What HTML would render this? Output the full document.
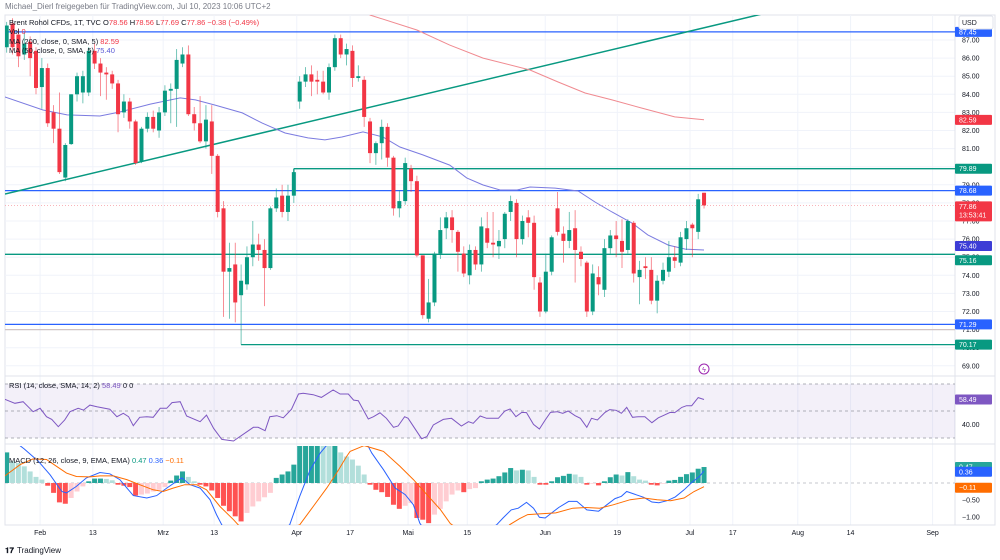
<!DOCTYPE html>
<html><head><meta charset="utf-8">
<style>
html,body{margin:0;padding:0;background:#fff;}
svg{display:block;font-family:"Liberation Sans",sans-serif;}
</style></head>
<body>
<svg id="c" width="1000" height="560" viewBox="0 0 1000 560" xmlns="http://www.w3.org/2000/svg">
<defs>
<clipPath id="cm"><rect x="5" y="15" width="950" height="361"/></clipPath>
<clipPath id="cr"><rect x="5" y="377" width="950" height="66"/></clipPath>
<clipPath id="cd"><rect x="5" y="446" width="950" height="79"/></clipPath>
</defs>
<rect x="5" y="15" width="990" height="510" fill="#fff" stroke="#e0e3eb" stroke-width="1"/>
<g id="grid"></g>
<g id="main" clip-path="url(#cm)"></g>
<g id="rsi" clip-path="url(#cr)"></g>
<g id="macd" clip-path="url(#cd)"></g>
<g id="axes"></g>
<text x="5" y="9" font-size="8" fill="#787b86">Michael_Dierl freigegeben für TradingView.com, Jul 10, 2023 10:06 UTC+2</text>
<text x="9" y="25" font-size="7.5" fill="#131722">Brent Rohöl CFDs, 1T, TVC  O<tspan fill="#f23645">78.56</tspan> H<tspan fill="#f23645">78.56</tspan> L<tspan fill="#f23645">77.69</tspan> C<tspan fill="#f23645">77.86 −0.38 (−0.49%)</tspan></text>
<text x="9" y="34" font-size="7.5" fill="#131722">Vol <tspan fill="#f23645">0</tspan></text>
<text x="9" y="44" font-size="7.5" fill="#131722">MA (200, close, 0, SMA, 5) <tspan fill="#f23645">82.59</tspan></text>
<text x="9" y="53" font-size="7.5" fill="#131722">MA (50, close, 0, SMA, 5) <tspan fill="#5b5bd6">75.40</tspan></text>
<text x="9" y="388" font-size="7.5" fill="#131722">RSI (14, close, SMA, 14, 2) <tspan fill="#7e57c2">58.49</tspan> 0 0</text>
<text x="9" y="463" font-size="7.5" fill="#131722">MACD (12, 26, close, 9, EMA, EMA) <tspan fill="#089981">0.47</tspan> <tspan fill="#2962ff">0.36</tspan> <tspan fill="#ff6d00">−0.11</tspan></text>
<g><text x="5" y="553" font-size="8" font-weight="bold" fill="#131722">𝟏𝟕</text><text x="17" y="553" font-size="8" fill="#131722">TradingView</text></g>
<rect x="959" y="16" width="34" height="13" rx="2" fill="#fff" stroke="#e0e3eb"/>
<text x="962" y="25" font-size="7" fill="#131722">USD</text>
<circle cx="704" cy="369" r="5" fill="#fff" stroke="#9c27b0" stroke-width="1"/>
<text x="704" y="372" font-size="7" fill="#9c27b0" text-anchor="middle">ϟ</text>
</svg>
<script>
const opens=[86.6,87.9,87.3,86.2,86.9,86.4,84.4,85.45,83.0,82.1,79.4,81.25,84.0,84.1,84.1,86.4,85.7,85.2,85.1,84.6,83.0,83.6,82.5,80.3,82.1,82.75,82.0,83.0,84.2,84.3,
85.7,86.2,82.9,82.4,81.4,82.5,80.6,77.7,74.2,74.6,72.9,73.5,75.0,75.7,75.4,74.4,77.7,78.4,77.5,78.4,83.6,84.7,85.1,84.8,84.7,84.1,85.5,87.1,86.2,86.4,
84.9,84.8,82.5,80.75,81.3,82.2,80.5,77.7,78.1,79.9,79.2,75.1,71.6,72.5,75.2,76.6,77.2,76.4,75.2,74.0,75.4,74.6,76.6,75.8,75.6,76.0,77.5,78.0,76.0,77.2,
76.9,73.6,72.0,74.2,77.7,76.3,75.9,76.6,75.3,74.7,72.0,73.9,73.2,75.5,76.2,75.9,75.4,76.9,73.9,74.5,74.3,72.6,73.7,74.2,75.0,74.7,76.0,76.8,76.4,78.56];
const highs=[88.0,88.2,87.6,87.4,87.2,86.6,86.0,85.7,83.4,84.1,81.3,84.0,85.2,85.3,86.6,86.8,86.0,85.5,85.3,84.8,84.0,83.8,82.6,82.2,83.0,83.1,83.3,84.5,84.6,86.5,
86.6,86.7,83.3,83.9,83.4,83.4,80.7,78.1,75.8,75.8,74.6,75.6,77.0,76.3,76.0,77.8,78.8,79.0,79.0,79.9,85.0,85.5,85.6,85.3,85.3,85.7,87.3,87.3,86.8,86.7,
85.6,85.0,82.7,81.4,82.6,82.4,80.6,78.7,80.5,80.1,79.5,75.1,73.8,75.3,77.2,77.5,77.6,76.5,75.6,75.7,75.6,77.2,77.5,77.5,76.5,77.5,78.4,78.2,77.3,77.6,
77.3,73.9,75.2,76.2,78.6,76.7,77.5,77.6,75.6,74.8,74.6,74.5,76.0,76.5,77.0,77.1,77.1,77.0,74.8,75.0,75.0,74.0,74.7,75.9,75.6,76.4,77.0,76.9,78.5,78.56];
const lows=[86.3,86.2,85.5,85.9,85.0,84.0,83.2,82.2,81.3,79.6,79.2,81.2,83.6,83.5,83.9,85.4,83.9,83.7,84.3,81.9,82.7,82.1,80.1,80.2,81.9,81.9,81.6,82.8,82.4,82.2,
85.5,82.8,82.0,81.3,81.0,79.6,77.2,71.7,71.6,71.4,70.17,73.2,74.5,74.8,72.3,74.3,77.5,77.2,77.0,78.0,83.2,84.4,83.9,84.0,84.0,83.7,85.3,86.0,85.6,84.4,
84.7,82.2,80.2,80.1,80.4,80.0,77.3,77.2,77.9,78.6,75.0,71.6,71.4,72.3,74.9,76.0,75.8,74.2,73.9,73.5,74.3,74.2,75.5,75.0,74.9,75.5,77.0,75.0,75.7,76.1,
73.2,71.7,71.9,74.0,76.2,74.7,75.5,73.6,74.5,71.7,71.8,72.9,72.8,75.2,75.0,74.4,75.2,73.6,72.4,73.8,72.4,71.9,73.5,73.9,74.4,74.5,75.4,75.0,76.0,77.69];
const closes=[87.8,86.6,86.1,86.8,86.0,84.35,85.45,82.4,82.1,79.7,81.2,84.0,85.0,85.0,86.4,85.7,85.2,85.1,84.6,82.9,83.6,82.5,80.2,82.1,82.75,82.1,83.0,84.2,84.3,85.9,
86.2,82.9,82.4,81.4,82.6,80.6,77.5,74.2,74.4,72.5,73.7,75.0,75.7,75.4,74.4,77.7,78.3,77.5,78.4,79.7,84.7,85.1,84.7,84.7,84.1,85.5,87.1,86.2,86.5,84.9,
85.0,82.75,80.75,81.3,82.2,80.5,77.7,78.1,80.2,79.2,75.1,71.8,72.5,75.2,76.5,77.2,76.5,75.3,74.1,75.4,74.6,76.7,75.8,75.7,75.9,77.4,78.1,76.0,77.0,76.9,
73.9,72.0,74.2,76.1,76.4,75.9,76.5,75.4,74.9,72.0,74.1,73.5,75.5,76.2,76.0,75.3,77.0,74.1,74.3,74.4,72.6,73.7,74.3,75.0,74.8,76.1,76.6,76.6,78.2,77.86];
const ma50Idx=[-0.3,6.2,10.3,15.9,19.3,24.5,29.6,32.2,35.5,40.2,43.6,47.5,51.4,54.3,57.2,60.8,64.2,67.1,71.0,75.6,78.5,81.3,84.2,87.1,89.3,93.6,97.5,100.4,103.3,106.7,109.4,112.9,115.8,119];
const ma50Val=[83.85,83.13,82.86,82.80,83.02,83.46,83.80,83.69,83.41,82.97,82.41,81.86,81.59,81.48,81.64,81.92,81.64,81.09,80.65,80.09,79.38,78.99,78.71,78.71,78.88,78.82,78.66,78.05,77.50,76.89,76.23,75.67,75.45,75.40];
const ma200Idx=[60,62,70,75.6,81.3,89.3,94.1,98.7,103.3,108.4,114,119];
const ma200Val=[89.0,88.38,87.55,86.72,86.0,85.34,84.68,84.07,83.69,83.24,82.75,82.59];
const rsiIdx=[-0.3,1.4,2.8,4.5,5.7,6.8,7.7,8.8,9.9,10.8,12.2,13.1,14.2,15.4,17.6,18.8,19.9,20.8,21.6,22.7,23.9,25.0,26.2,27.3,28.2,29.6,30.7,33.0,34.1,35.3,36.7,38.7,41.0,42.1,42.9,44.1,44.9,46.1,47.2,48.6,49.8,50.6,52.3,53.7,55.7,56.9,58.3,59.2,60.0,61.7,62.6,63.7,64.8,66.0,66.8,67.9,68.5,70.8,71.7,72.8,74.5,75.9,77.6,78.8,79.6,80.8,81.9,83.9,85.0,85.9,86.9,87.9,88.7,89.9,90.9,91.9,92.8,93.9,94.9,95.8,97.0,97.9,99.0,99.8,100.8,102.1,102.9,104.0,104.9,105.8,106.8,107.8,108.9,110.1,111.2,112.0,113.2,114.0,115.2,116.0,116.9,118.0,119];
const rsiVal=[58.7,55.7,56.9,49.5,52,45.8,43.8,38.4,43.3,49.5,52,50.7,54.4,53.2,51.3,45.8,48.3,45.8,39.1,45.3,45.8,45.3,52,52,56.2,56.9,46.3,42.1,47,37.2,29,27.8,34.7,37.9,37.9,35.4,45.8,46.5,45,51.3,62.6,63.1,62.1,60.1,65.6,62.6,62.6,58.1,57.6,44.1,45.8,48.7,44.6,37.9,38.9,45.8,44.6,29.5,31,39.6,43.8,44.6,38.9,42.1,40.9,46.3,44.6,44.6,50,51.5,45.8,49,48.8,40.1,36.7,43.3,49,49.5,48.3,50,46.5,44.6,37.9,44.6,43.3,49,51,50.5,48.3,52.7,45.3,45.8,45.8,41.3,45,46.5,49,48.8,52.7,53.9,53.9,59.9,58.49];
const histVal=[0.9,0.64,0.59,0.49,0.34,0.18,0.10,-0.08,-0.29,-0.57,-0.61,-0.44,-0.25,-0.10,0.05,0.13,0.13,0.12,0.08,-0.05,-0.08,-0.12,-0.37,-0.34,-0.31,-0.25,-0.20,-0.12,0.07,0.22,0.34,0.18,0.05,-0.05,-0.10,-0.22,-0.44,-0.67,-0.83,-0.98,-1.13,-0.88,-0.69,-0.54,-0.42,-0.29,0.15,0.25,0.34,0.54,
1.1,1.2,1.3,1.3,1.25,1.15,1.2,0.9,0.78,0.69,0.51,0.25,-0.05,-0.20,-0.27,-0.41,-0.64,-0.76,-0.67,-0.59,-1.03,-1.08,-1.18,-0.93,-0.76,-0.54,-0.34,-0.22,-0.27,-0.18,-0.15,0.05,0.10,
0.13,0.20,0.31,0.44,0.37,0.39,0.37,0.18,-0.05,-0.05,0.05,0.17,0.21,0.27,0.25,0.18,-0.05,-0.02,-0.07,0.05,0.17,0.25,0.22,0.32,0.20,0.10,0.07,-0.05,-0.07,-0.02,0.07,0.09,0.18,0.26,0.31,0.42,0.47];
const macdIdx=[0,3,5.4,7.4,9.4,10.2,11.9,13.6,15.9,17.6,19.3,21.6,23.9,25.6,27.3,29.0,29.9,31.3,33.0,34.7,35.8,36.7,41,48.3,50.0,51.8,53.5,56,59,61,62.3,64.3,66.3,68.0,69.4,70.5,73,76,79,83.6,84.7,86.1,87.3,88.7,89.9,90.9,91.9,93.0,94.2,95.9,97.3,98.1,99.0,101.0,102.4,103.8,104.9,105.8,107.0,108.7,110.1,111.3,112.7,114.1,115.6,117.0,118.2,119];
const macdVal=[1.4,1.0,0.64,0.24,-0.25,-0.29,-0.10,0.15,0.31,0.27,0.10,-0.37,-0.44,-0.37,-0.15,0.05,0.15,-0.05,-0.15,-0.49,-0.93,-1.23,-2.0,-1.23,-0.39,0.39,0.88,1.4,1.6,1.3,0.88,0.39,-0.15,-0.34,-0.64,-1.18,-1.8,-2.0,-1.7,-1.23,-1.03,-0.79,-0.74,-0.57,-0.74,-1.01,-1.03,-0.88,-0.72,-0.54,-0.54,-0.66,-0.79,-0.83,-0.64,-0.46,-0.39,-0.25,-0.32,-0.42,-0.56,-0.58,-0.52,-0.41,-0.20,0.03,0.19,0.36];
const sigIdx=[-0.3,2.3,4.5,6.8,8.5,10.2,11.9,14.2,15.9,18.2,20.5,22.7,25.0,26.7,28.4,30.4,32.4,34.1,36.4,38.7,39.5,42,45,50.0,52.3,54.6,56.3,58.0,58.6,61,64.3,67.1,69.4,71.7,74.0,75.7,79,84,85.8,87.5,88.9,90.9,93.7,96.6,98.9,101.2,103.5,106.4,108.7,111.0,113.3,115.6,117.3,119];
const sigVal=[0.21,0.54,0.71,0.69,0.49,0.29,0.19,0.18,0.21,0.21,0.10,-0.05,-0.20,-0.25,-0.15,-0.05,-0.05,-0.20,-0.69,-1.08,-1.23,-1.6,-1.5,-1.23,-0.69,-0.15,0.29,0.78,0.93,1.1,0.93,0.49,0.10,-0.34,-0.78,-1.19,-1.6,-1.7,-1.23,-1.05,-0.93,-0.91,-0.88,-0.74,-0.72,-0.74,-0.64,-0.49,-0.44,-0.49,-0.52,-0.44,-0.25,-0.11];
const priceTicks=[87,86,85,84,83,82,81,80,79,78,77,76,75,74,73,72,71,70,69];
const dateLabels=["Feb","13","Mrz","13","Apr","17","Mai","15","Jun","19","Jul","17","Aug","14","Sep"];
const dateIdx=[5.7,14.7,26.7,35.4,49.5,58.6,68.5,78.6,91.9,104.2,116.6,123.9,135,144,158];

const NS="http://www.w3.org/2000/svg";
const X=i=>6.7+i*5.86;
const Y=p=>40+(87-p)*18.1;
const YR=v=>411-(v-50)*1.35;
const YM=v=>483-v*34;
function mk(parent,tag,attrs){const e=document.createElementNS(NS,tag);for(const k in attrs)e.setAttribute(k,attrs[k]);document.getElementById(parent).appendChild(e);return e;}
function pts(ix,vals,fy){return ix.map((i,k)=>X(i).toFixed(1)+","+fy(vals[k]).toFixed(1)).join(" ");}

// grid
priceTicks.forEach(p=>{const l=mk('grid','line',{x1:5,x2:955,y1:Y(p),y2:Y(p),stroke:'#f0f3fa','stroke-width':1});

});
dateIdx.forEach(i=>{const l=mk('grid','line',{x1:X(i),x2:X(i),y1:15,y2:525,stroke:'#f0f3fa','stroke-width':1});

});
[[5,376,955,376],[5,444,955,444],[955,15,955,525],[5,525,995,525],[955,376,995,376],[955,444,995,444]].forEach(a=>{const l=mk('grid','line',{x1:a[0],y1:a[1],x2:a[2],y2:a[3],stroke:'#e0e3eb','stroke-width':1});

});

// drawn lines
function hl(y,x1,col,name,dash){const l=mk('main','line',{x1:x1,x2:955,y1:y,y2:y,stroke:col,'stroke-width':dash?0.8:1.3});if(dash)l.setAttribute('stroke-dasharray',dash);

}
hl(Y(71.0),5,'#d1c4c4','previous-close-line');
hl(Y(87.45),5,'#2962ff','resistance-87-45');
hl(Y(78.68),5,'#2962ff','resistance-78-68');
hl(Y(79.89),X(49),'#089981','resistance-79-89');
hl(Y(75.16),5,'#089981','support-75-16');
hl(Y(71.29),5,'#2962ff','support-71-29');
hl(Y(70.17),X(40),'#089981','support-70-17');
hl(Y(77.86),5,'#f7a9b0','current-price-line','1,2');
const v1=mk('main','line',{x1:X(49),x2:X(49),y1:Y(79.89),y2:Y(79.3),stroke:'#089981','stroke-width':1.3});


const tl=mk('main','line',{x1:5,y1:194,x2:762,y2:14,stroke:'#089981','stroke-width':1.5});



// MAs
const m200=mk('main','polyline',{points:pts(ma200Idx,ma200Val,Y),fill:'none',stroke:'#f08a90','stroke-width':1});


const m50=mk('main','polyline',{points:pts(ma50Idx,ma50Val,Y),fill:'none',stroke:'#7b7be0','stroke-width':1});



// candles
closes.forEach((c,i)=>{const o=opens[i],up=c>=o,col=up?'#089981':'#f23645';
const w=mk('main','line',{x1:X(i),x2:X(i),y1:Y(highs[i]),y2:Y(lows[i]),stroke:col,'stroke-width':0.8,'stroke-opacity':0.7});


const t=Y(Math.max(o,c)),b=Y(Math.min(o,c));
const r=mk('main','rect',{x:X(i)-2,y:t,width:4,height:Math.max(1,b-t),fill:col});

});

// RSI
const band=mk('rsi','rect',{x:5,y:YR(70),width:950,height:YR(30)-YR(70),fill:'#7e57c2','fill-opacity':0.09});


[70,50,30].forEach(v=>{const l=mk('rsi','line',{x1:5,x2:955,y1:YR(v),y2:YR(v),stroke:'#9598a1','stroke-dasharray':'3,3','stroke-width':0.8});

});
const rl=mk('rsi','polyline',{points:pts(rsiIdx,rsiVal,YR),fill:'none',stroke:'#7e57c2','stroke-width':1});



// MACD
const z=mk('macd','line',{x1:5,x2:955,y1:YM(0),y2:YM(0),stroke:'#b2b5be','stroke-dasharray':'3,3','stroke-width':0.7});


histVal.forEach((v,i)=>{const p=i?histVal[i-1]:v;let col;
if(v>=0)col=v>=p?'#26a69a':'#b2dfdb';else col=v<=p?'#ff5252':'#ffcdd2';
const r=mk('macd','rect',{x:X(i)-2.5,y:Math.min(YM(v),YM(0)),width:5,height:Math.abs(YM(v)-YM(0)),fill:col});

});
const ml=mk('macd','polyline',{points:pts(macdIdx,macdVal,YM),fill:'none',stroke:'#2962ff','stroke-width':1});


const sl=mk('macd','polyline',{points:pts(sigIdx,sigVal,YM),fill:'none',stroke:'#ff6d00','stroke-width':1});



// axes labels
function txt(x,y,s,col,name,anchor){const t=mk('axes','text',{x:x,y:y,'font-size':7,fill:col});if(anchor)t.setAttribute('text-anchor',anchor);t.textContent=s;

return t;}
priceTicks.forEach(p=>txt(962,Y(p)+2.5,p.toFixed(2),'#131722','price-tick-label'));
txt(962,YR(40)+2.5,'40.00','#131722','rsi-tick-label');
txt(962,YM(-0.5)+2.5,'−0.50','#131722','macd-tick-label');
txt(962,YM(-1)+2.5,'−1.00','#131722','macd-tick-label');
dateLabels.forEach((s,k)=>txt(X(dateIdx[k]),535,s,'#131722','date-tick-label','middle'));
function box(y,s,col,name,h){const r=mk('axes','rect',{x:955,y:y-5,width:37,height:h||10,fill:col,rx:1});


txt(959,y+2.5,s,'#fff',name+'-text');}
box(Y(87.45),'87.45','#2962ff','label-87-45');
box(Y(82.59),'82.59','#f23645','label-ma200');
box(Y(79.89),'79.89','#089981','label-79-89');
box(Y(78.68),'78.68','#2962ff','label-78-68');
box(Y(77.86)+1,'77.86','#f23645','label-last-price',20);
txt(959,Y(77.86)+12,'13:53:41','#fff','countdown-text');
box(Y(75.40)-4,'75.40','#3d3dd6','label-ma50');
box(Y(75.16)+6,'75.16','#089981','label-75-16');
box(Y(71.29),'71.29','#2962ff','label-71-29');
box(Y(70.17),'70.17','#089981','label-70-17');
box(YR(58.49),'58.49','#7e57c2','label-rsi');
box(YM(0.47),'0.47','#26a69a','label-histogram');
box(YM(0.36)+1,'0.36','#2962ff','label-macd');
box(YM(-0.11)+1,'−0.11','#ff6d00','label-signal');
</script>
</body></html>
